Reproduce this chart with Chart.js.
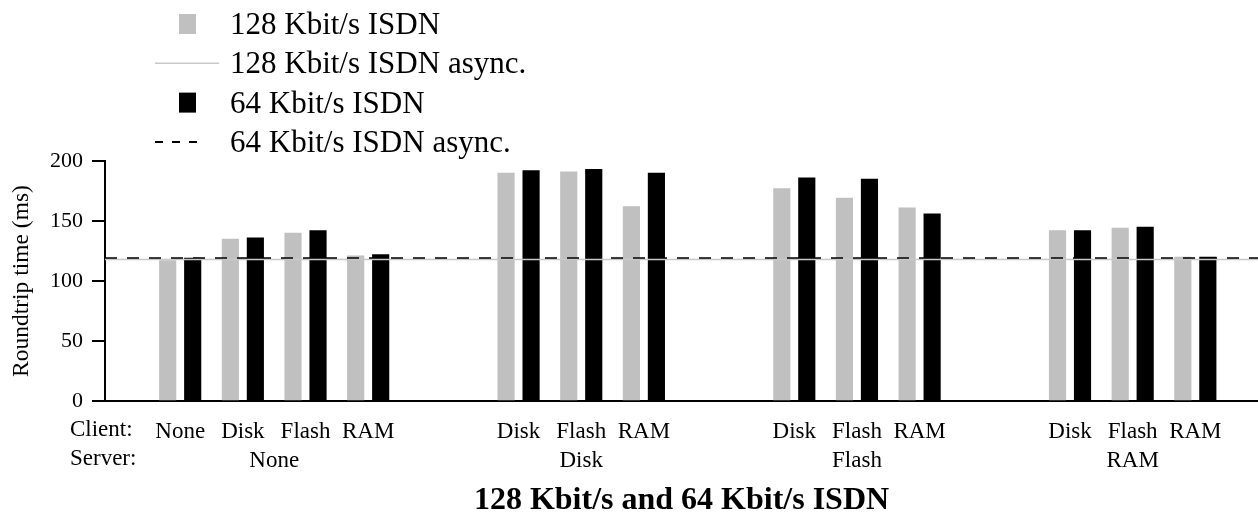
<!DOCTYPE html>
<html>
<head>
<meta charset="utf-8">
<script src="https://cdn.jsdelivr.net/npm/chart.js@4.4.1/dist/chart.umd.min.js"></script>
<style>
  html, body { margin: 0; padding: 0; background: #fff; }
  #wrap { width: 1258px; height: 517px; }
</style>
</head>
<body>
<div id="wrap"><canvas id="chart"></canvas></div>
<script>
const servers = ['None', 'Disk', 'Flash', 'RAM'];
const clients = [
  ['None', 'Disk', 'Flash', 'RAM'],
  ['Disk', 'Flash', 'RAM'],
  ['Disk', 'Flash', 'RAM'],
  ['Disk', 'Flash', 'RAM'],
];
const isdn128 = [117, 135, 140, 121, 190, 191, 162, 177, 169, 161, 142, 144, 120];
const isdn64 = [119, 136, 142, 122, 192, 193, 190, 186, 185, 156, 142, 145, 120];
const isdn128Async = 118;
const isdn64Async = 119;
const seriesLabels = ['128 Kbit/s ISDN', '128 Kbit/s ISDN async.', '64 Kbit/s ISDN', '64 Kbit/s ISDN async.'];
const rowHeaders = ['Client:', 'Server:'];
const yTicks = [0, 50, 100, 150, 200];
const yTitle = 'Roundtrip time (ms)';
const chartTitle = '128 Kbit/s and 64 Kbit/s ISDN';

const FONT = '"Liberation Serif", "Times New Roman", serif';
const GROUP_GAP = 1.4;   // extra space between server groups, in slot units
const X_MIN = -1.2;
const X_MAX = 17.2;
const TICK_PAD = 8.5;
const TICK_LH = 29;

// position of each client slot, and the tick list (client on line 1, server on line 2)
let slots = [];
let xTicks = [];
let pos = 0;
clients.forEach((group, g) => {
  const start = pos;
  const mid = start + (group.length - 1) / 2;
  group.forEach((c) => {
    slots.push(pos);
    xTicks.push({ value: pos, label: [c, pos === mid ? servers[g] : ''] });
    pos += 1;
  });
  if (!Number.isInteger(mid - start)) {
    xTicks.push({ value: mid, label: ['', servers[g]] });
  }
  pos += GROUP_GAP;
});
xTicks.sort((a, b) => a.value - b.value);

Chart.defaults.font.family = FONT;
Chart.defaults.color = '#000';

const legendPlugin = {
  id: 'sideLegend',
  afterDraw(chart) {
    const ctx = chart.ctx;
    ctx.save();
    chart.data.datasets.forEach((ds, i) => {
      const cy = 24 + i * 39.3;
      if (ds.type === 'line') {
        ctx.beginPath();
        ctx.strokeStyle = ds.borderColor;
        ctx.lineWidth = ds.borderWidth;
        ctx.setLineDash(ds.borderDash ? [8, 9] : []);
        ctx.moveTo(155, cy);
        ctx.lineTo(ds.borderDash ? 197 : 219, cy);
        ctx.stroke();
        ctx.setLineDash([]);
      } else {
        ctx.fillStyle = ds.backgroundColor;
        ctx.fillRect(179, cy - 10, 17, 20);
      }
      ctx.fillStyle = '#000';
      ctx.font = '31px ' + FONT;
      ctx.textAlign = 'left';
      ctx.textBaseline = 'alphabetic';
      ctx.fillText(ds.label, 230, cy + 10);
    });

    // row headers for the two-line x labels
    const xs = chart.scales.x;
    ctx.font = '23px ' + FONT;
    ctx.textBaseline = 'middle';
    rowHeaders.forEach((h, i) => {
      ctx.fillText(h, 70, xs.top + 29 + i * TICK_LH);
    });
    ctx.restore();
  },
};

const config = {
  type: 'bar',
  data: {
    datasets: [
      {
        label: seriesLabels[0],
        data: slots.map((x, i) => ({ x: x, y: isdn128[i] })),
        backgroundColor: '#c0c0c0',
        barThickness: 25,
        maxBarThickness: 16.5,
        order: 1,
      },
      {
        type: 'line',
        label: seriesLabels[1],
        data: [{ x: X_MIN, y: isdn128Async }, { x: X_MAX, y: isdn128Async }],
        borderColor: '#c8c8c8',
        borderWidth: 1.5,
        pointRadius: 0,
        fill: false,
        order: 0,
      },
      {
        label: seriesLabels[2],
        data: slots.map((x, i) => ({ x: x, y: isdn64[i] })),
        backgroundColor: '#000',
        barThickness: 25,
        maxBarThickness: 16.5,
        order: 1,
      },
      {
        type: 'line',
        label: seriesLabels[3],
        data: [{ x: X_MIN, y: isdn64Async }, { x: X_MAX, y: isdn64Async }],
        borderColor: '#000',
        borderWidth: 2,
        borderDash: [12, 10],
        pointRadius: 0,
        fill: false,
        order: 0,
      },
    ],
  },
  options: {
    responsive: true,
    maintainAspectRatio: false,
    animation: false,
    layout: { padding: { top: 161, right: 0, left: 0, bottom: 0 } },
    plugins: {
      legend: { display: false },
      tooltip: { enabled: false },
      title: {
        display: true,
        text: chartTitle,
        position: 'bottom',
        fullSize: false,
        color: '#000',
        font: { size: 32, weight: 'bold', lineHeight: 1 },
        padding: { top: 0, bottom: 0 },
      },
    },
    scales: {
      x: {
        type: 'linear',
        min: X_MIN,
        max: X_MAX,
        offset: false,
        afterBuildTicks: (s) => {
          s.ticks = xTicks.map((t) => ({ value: t.value }));
        },
        afterFit: (s) => {
          s.height = 84;
        },
        border: { color: '#000', width: 2 },
        grid: { display: false },
        ticks: {
          autoSkip: false,
          maxRotation: 0,
          minRotation: 0,
          padding: TICK_PAD,
          color: '#000',
          font: { size: 23, lineHeight: TICK_LH / 23 },
          callback: (v, i) => xTicks[i].label,
        },
      },
      y: {
        min: 0,
        max: 200,
        afterBuildTicks: (s) => {
          s.ticks = yTicks.map((v) => ({ value: v }));
        },
        afterFit: (s) => {
          s.width = 105;
        },
        border: { color: '#000', width: 2 },
        grid: { drawOnChartArea: false, tickLength: 13, color: '#000', lineWidth: 2 },
        ticks: { padding: 9, color: '#000', font: { size: 22 } },
        title: {
          display: true,
          text: yTitle,
          color: '#000',
          font: { size: 23.5 },
          padding: { top: 8, bottom: 0 },
        },
      },
    },
  },
  plugins: [legendPlugin],
};

new Chart(document.getElementById('chart'), config);
</script>
</body>
</html>
